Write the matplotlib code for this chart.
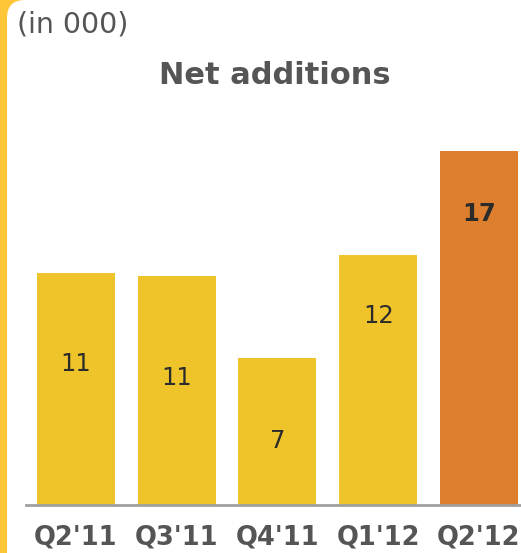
import numpy as np
import matplotlib.pyplot as plt
from matplotlib.patches import FancyBboxPatch
from matplotlib.transforms import IdentityTransform

# Quarterly net additions (in 000)
quarters = ["Q2'11", "Q3'11", "Q4'11", "Q1'12", "Q2'12"]
net_adds = [11.15, 11.0, 7.05, 12.0, 17.0]
label_y = [6.8, 6.1, 3.1, 9.1, 14.0]

W, H = 521, 553
fig = plt.figure(figsize=(W / 100, H / 100), dpi=100)
fig.patch.set_facecolor('#FFC638')

# white panel with rounded top-left corner over the yellow frame
panel = FancyBboxPatch((7, -40), 600, H + 40, boxstyle="round,pad=0,rounding_size=18",
                       transform=IdentityTransform(), facecolor='white', edgecolor='none',
                       zorder=-5)
fig.patches.append(panel)


def px(x, y):
    return x / W, 1 - y / H


ax = fig.add_axes([26 / W, (H - 505) / H, (W - 26) / W, 365 / H])
ax.set_facecolor('none')
ax.set_zorder(2)

colors = ['#EEC42A'] * 4 + ['#DD7F2E']
x = np.arange(len(quarters))
ax.bar(x, net_adds, width=0.774, color=colors, zorder=2)
ax.set_xlim(-0.496, 4.417)
ax.set_ylim(0, 365 / 20.8)

for spine in ['top', 'right', 'left']:
    ax.spines[spine].set_visible(False)
ax.spines['bottom'].set_color('#A0A0A0')
ax.spines['bottom'].set_linewidth(2)
ax.set_yticks([])
ax.set_xticks(x)
ax.set_xticklabels(quarters, fontsize=18.5, fontweight='bold', color='#555555')
ax.tick_params(axis='x', length=0, pad=14)

for i, v in enumerate(net_adds):
    last = i == len(net_adds) - 1
    ax.text(i, label_y[i], f"{v:.0f}", ha='center', va='center', fontsize=17.5,
            color='#2B2B2B', fontweight='bold' if last else 'normal')

fig.text(*px(17, 24), "(in 000)", fontsize=20.5, color='#555555', ha='left', va='center')
fig.text(*px(275, 75), "Net additions", fontsize=22, fontweight='bold', color='#555555',
         ha='center', va='center')

fig.savefig('out.png', dpi=100, facecolor=fig.get_facecolor())
